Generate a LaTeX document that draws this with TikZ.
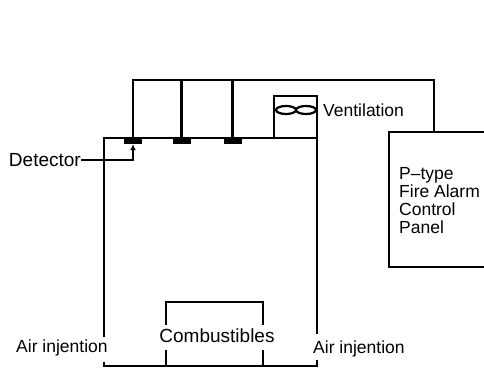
\documentclass[tikz,border=0pt]{standalone}
\usepackage{fontspec}
\setmainfont{Liberation Sans}
\usetikzlibrary{positioning,shapes.geometric,arrows.meta}
\begin{document}
\begin{tikzpicture}[x=1pt,y=-1pt]
  \newcommand{\labelsize}[0]{\fontsize{17.5}{18.3}\selectfont}
  \newcommand{\widesize}[0]{\fontsize{19}{19.5}\selectfont}
  \newcommand{\panelname}[1]{\labelsize \begin{tabular}{@{}l@{}}#1\end{tabular}}
  \tikzstyle{wall}     = [line width=2.4pt, line cap=rect]
  \tikzstyle{wire}     = [line width=2.4pt, line join=miter]
  \tikzstyle{leader}   = [line width=1.2pt, -{Latex[length=6pt,width=6pt]}]
  \tikzstyle{detector} = [rectangle, fill = black, minimum width=18pt, minimum height=5pt, inner sep=0pt]
  \tikzstyle{fan}      = [ellipse, draw = black, line width=2.2pt, minimum width=20pt, minimum height=8pt, inner sep=0pt]
  \tikzstyle{caption}  = [inner sep=0pt, font=\labelsize]

  \useasboundingbox (0,0) rectangle (484,367);

  % room corners
  \coordinate (roomtl) at (104,138);
  \coordinate (roomtr) at (317,138);
  \coordinate (roombl) at (104,366);
  \coordinate (roombr) at (317,366);
  \coordinate (leftgaptop) at (104,336);
  \coordinate (leftgapbot) at (104,363);
  \coordinate (rightgaptop) at (317,333);
  \coordinate (rightgapbot) at (317,361);

  \draw [wall] (leftgaptop) -- (roomtl) -- (roomtr) -- (rightgaptop);
  \draw [wall] (leftgapbot) -- (roombl) -- (roombr) -- (rightgapbot);

  % detectors and wiring
  \node [detector] (detone)   at (133,141.5) {};
  \node [detector] (dettwo)   at (181.5,141.5) {};
  \node [detector] (detthree) at (232.5,141.5) {};
  \coordinate (wireone)   at (133,80);
  \coordinate (wiretwo)   at (181.5,80);
  \coordinate (wirethree) at (232.5,80);
  \coordinate (wireend)   at (434,80);

  % fire alarm panel
  \node [caption, anchor=north west] (panel) at (399,166) {\panelname{P--type\\Fire Alarm\\Control\\Panel}};
  \coordinate (paneltl) at (389,132);
  \coordinate (paneltr) at (484,132);
  \coordinate (panelbl) at (389,267);
  \coordinate (panelbr) at (484,267);
  \coordinate (panelin) at (434,132);
  \draw [wall] (paneltr) -- (paneltl) -- (panelbl) -- (panelbr);

  \draw [wire] (detone.center) -- (wireone) -- (wireend) -- (panelin);
  \draw [wire] (dettwo.center) -- (wiretwo);
  \draw [wire] (detthree.center) -- (wirethree);

  % ventilation
  \coordinate (ventbl) at (274,138);
  \coordinate (venttl) at (274,96);
  \coordinate (venttr) at (317,96);
  \draw [wall] (ventbl) -- (venttl) -- (venttr) -- (roomtr);
  \node [fan] (fanleft)  at (286,110) {};
  \node [fan] (fanright) at (306,110) {};
  \node [caption, anchor=west] (ventilation) at (323,110) {Ventilation};

  % detector label
  \node [caption, font=\widesize, anchor=east] (detlabel) at (81,160) {Detector};
  \coordinate (leaderbend) at (133,160);
  \draw [leader] (detlabel.east) -- (leaderbend) -- (detone.south);

  % combustibles
  \node [caption, font=\widesize] (combustibles) at (217,336) {Combustibles};
  \coordinate (comtl) at (166,302);
  \coordinate (comtr) at (263,302);
  \coordinate (comlgap) at (166,324);
  \coordinate (comrgap) at (263,324);
  \coordinate (comlbot) at (166,351);
  \coordinate (comrbot) at (263,351);
  \coordinate (comlend) at (166,366);
  \coordinate (comrend) at (263,366);
  \draw [wall] (comlgap) -- (comtl) -- (comtr) -- (comrgap);
  \draw [wall] (comlbot) -- (comlend);
  \draw [wall] (comrbot) -- (comrend);

  % air inlets
  \node [caption, anchor=west] (airleft)  at (16,348) {Air injention};
  \node [caption, anchor=west] (airright) at (313,349) {Air injention};
\end{tikzpicture}
\end{document}
